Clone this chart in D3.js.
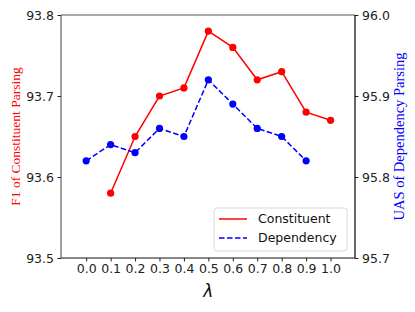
<!DOCTYPE html>
<html>
<head>
<meta charset="utf-8">
<script src="https://cdn.jsdelivr.net/npm/d3@7"></script>
<style>
  body { margin: 0; background: #fff; }
  svg { display: block; }
</style>
</head>
<body>
<div id="chart"></div>
<script>
const lambdas = [0.0, 0.1, 0.2, 0.3, 0.4, 0.5, 0.6, 0.7, 0.8, 0.9, 1.0];
const constX = [0.1, 0.2, 0.3, 0.4, 0.5, 0.6, 0.7, 0.8, 0.9, 1.0];
const constituent = [93.58, 93.65, 93.70, 93.71, 93.78, 93.76, 93.72, 93.73, 93.68, 93.67];
const depX = [0.0, 0.1, 0.2, 0.3, 0.4, 0.5, 0.6, 0.7, 0.8, 0.9];
const dependency = [95.82, 95.84, 95.83, 95.86, 95.85, 95.92, 95.89, 95.86, 95.85, 95.82];
const leftTicks = [93.5, 93.6, 93.7, 93.8];
const rightTicks = [95.7, 95.8, 95.9, 96.0];

const margin = { top: 15, right: 60, bottom: 54, left: 61 },
  width = 415 - margin.left - margin.right,
  height = 312 - margin.top - margin.bottom;

const svg = d3
  .select("#chart")
  .append("svg")
  .attr("width", 415)
  .attr("height", 312)
  .append("g")
  .attr("transform", "translate(" + margin.left + "," + margin.top + ")");

const xScale = d3.scaleLinear().domain([-0.103, 1.1]).range([0, width]);
const yLeft = d3.scaleLinear().domain([93.5, 93.8]).range([height, 0]);
const yRight = d3.scaleLinear().domain([95.7, 96.0]).range([height, 0]);

const tickFont = "DejaVu Sans, sans-serif";

// axes
const xAxis = svg
  .append("g")
  .attr("transform", "translate(0," + height + ")")
  .call(d3.axisBottom(xScale).tickValues(lambdas).tickFormat(d3.format(".1f")).tickSize(3.5).tickPadding(3));

const lAxis = svg
  .append("g")
  .call(d3.axisLeft(yLeft).tickValues(leftTicks).tickFormat(d3.format(".1f")).tickSize(3.5).tickPadding(3.5));

const rAxis = svg
  .append("g")
  .attr("transform", "translate(" + width + ",0)")
  .call(d3.axisRight(yRight).tickValues(rightTicks).tickFormat(d3.format(".1f")).tickSize(3.5).tickPadding(3.5));

[xAxis, lAxis, rAxis].forEach(function (a) {
  a.selectAll(".domain").remove();
  a.selectAll("text").style("font-family", tickFont).style("font-size", "12.5px").attr("fill", "#222");
  a.selectAll(".tick line").attr("stroke", "#222");
});

// spines
svg.append("line").attr("x1", 0).attr("x2", width).attr("y1", 0).attr("y2", 0).attr("stroke", "#555");
svg.append("line").attr("x1", 0).attr("x2", 0).attr("y1", 0).attr("y2", height).attr("stroke", "#444");
svg.append("line").attr("x1", 0).attr("x2", width).attr("y1", height).attr("y2", height).attr("stroke", "#111");
svg.append("line").attr("x1", width).attr("x2", width).attr("y1", 0).attr("y2", height).attr("stroke", "#000").attr("stroke-width", 1.2);

// constituent line
const cData = constX.map(function (d, i) { return { x: d, y: constituent[i] }; });
svg
  .append("path")
  .datum(cData)
  .attr("d", d3.line().x(function (d) { return xScale(d.x); }).y(function (d) { return yLeft(d.y); }))
  .attr("fill", "none")
  .attr("stroke", "#ff0000")
  .attr("stroke-width", 1.5);
svg
  .selectAll("circle.c")
  .data(cData)
  .enter()
  .append("circle")
  .attr("class", "c")
  .attr("cx", function (d) { return xScale(d.x); })
  .attr("cy", function (d) { return yLeft(d.y); })
  .attr("r", 3.6)
  .attr("fill", "#ff0000");

// dependency line
const dData = depX.map(function (d, i) { return { x: d, y: dependency[i] }; });
svg
  .append("path")
  .datum(dData)
  .attr("d", d3.line().x(function (d) { return xScale(d.x); }).y(function (d) { return yRight(d.y); }))
  .attr("fill", "none")
  .attr("stroke", "#0000ff")
  .attr("stroke-width", 1.5)
  .attr("stroke-dasharray", "5.5,2.5");
svg
  .selectAll("circle.d")
  .data(dData)
  .enter()
  .append("circle")
  .attr("class", "d")
  .attr("cx", function (d) { return xScale(d.x); })
  .attr("cy", function (d) { return yRight(d.y); })
  .attr("r", 3.6)
  .attr("fill", "#0000ff");

// axis titles
svg
  .append("text")
  .attr("transform", "translate(" + (-46) + "," + height / 2 + ") rotate(-90)")
  .attr("text-anchor", "middle")
  .attr("dy", "0.35em")
  .style("font-family", "Liberation Serif, Times New Roman, serif")
  .style("font-size", "13.5px")
  .attr("fill", "#ff0000")
  .text("F1 of Constituent Parsing");

svg
  .append("text")
  .attr("transform", "translate(" + (width + 44) + "," + height / 2 + ") rotate(-90)")
  .attr("text-anchor", "middle")
  .attr("dy", "0.35em")
  .style("font-family", "Liberation Serif, Times New Roman, serif")
  .style("font-size", "14.5px")
  .attr("fill", "#0000ff")
  .text("UAS of Dependency Parsing");

svg
  .append("text")
  .attr("x", xScale(0.5))
  .attr("y", height + 39)
  .attr("text-anchor", "middle")
  .style("font-family", "DejaVu Sans, sans-serif")
  .style("font-style", "italic")
  .style("font-size", "17px")
  .attr("fill", "#111")
  .text("λ");

// legend
const legend = svg.append("g").attr("transform", "translate(" + (214 - margin.left) + "," + (208 - margin.top) + ")");
legend
  .append("rect")
  .attr("width", 133)
  .attr("height", 43)
  .attr("rx", 3)
  .attr("fill", "#fff")
  .attr("fill-opacity", 0.8)
  .attr("stroke", "#d8d8d8");
const items = [
  { name: "Constituent", color: "#ff0000", dash: null },
  { name: "Dependency", color: "#0000ff", dash: "5.5,2.5" }
];
items.forEach(function (it, i) {
  const y = 11 + i * 19;
  legend
    .append("line")
    .attr("x1", 5).attr("x2", 33).attr("y1", y).attr("y2", y)
    .attr("stroke", it.color)
    .attr("stroke-width", 1.5)
    .attr("stroke-dasharray", it.dash);
  legend
    .append("text")
    .attr("x", 44)
    .attr("y", y)
    .attr("dy", "0.35em")
    .style("font-family", tickFont)
    .style("font-size", "12.5px")
    .attr("fill", "#111")
    .text(it.name);
});
</script>
</body>
</html>
